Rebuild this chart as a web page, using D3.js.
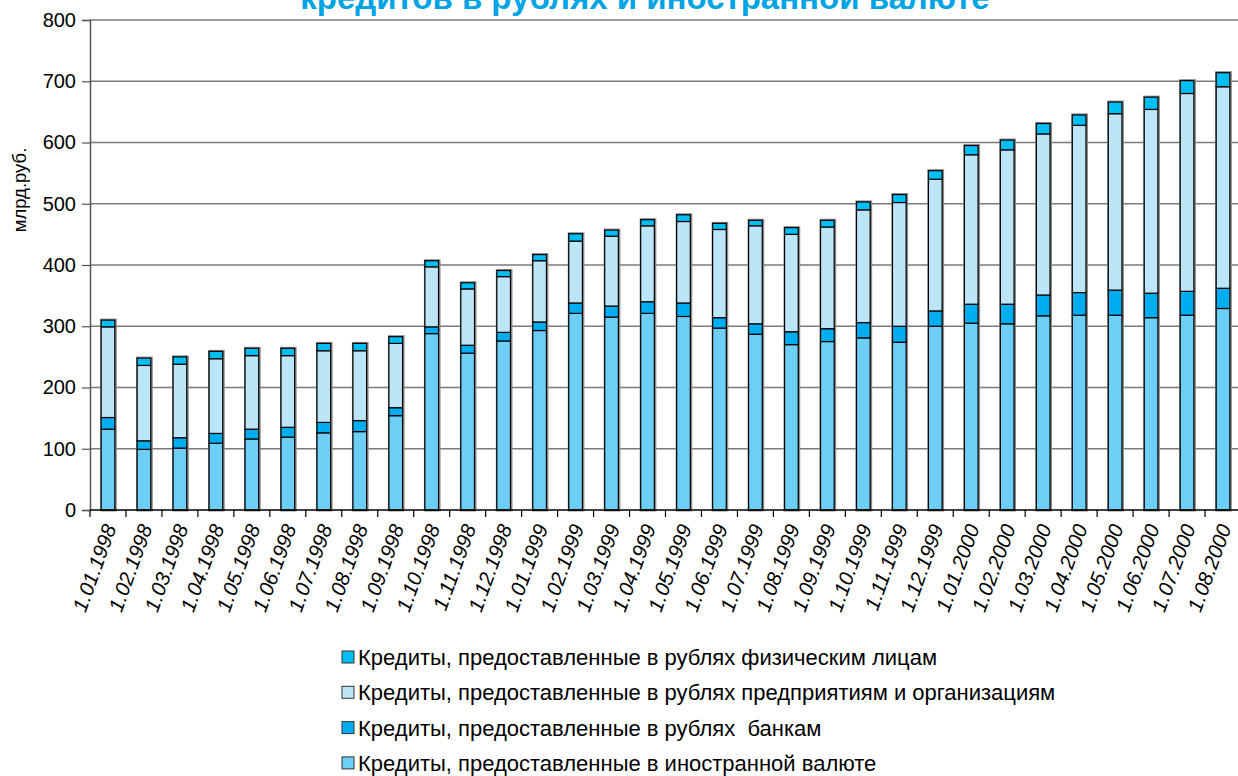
<!DOCTYPE html>
<html><head><meta charset="utf-8">
<script src="https://cdn.jsdelivr.net/npm/d3@7"></script>
<style>body{margin:0;background:#fff;} svg{display:block;} .lgt{white-space:pre;}</style>
</head><body>
<svg id="c" width="1238" height="776"></svg>
<script>
const categories = ["1.01.1998","1.02.1998","1.03.1998","1.04.1998","1.05.1998","1.06.1998","1.07.1998","1.08.1998","1.09.1998","1.10.1998","1.11.1998","1.12.1998",
"1.01.1999","1.02.1999","1.03.1999","1.04.1999","1.05.1999","1.06.1999","1.07.1999","1.08.1999","1.09.1999","1.10.1999","1.11.1999","1.12.1999",
"1.01.2000","1.02.2000","1.03.2000","1.04.2000","1.05.2000","1.06.2000","1.07.2000","1.08.2000"];
const foreign     = [132,99,101,109,116,119,126,128,154,288,256,276,293,321,315,321,316,297,287,270,275,281,274,300,305,304,317,318,318,314,318,329];
const banks       = [19,14,17,16,16,16,17,18,13,11,13,14,14,17,18,19,22,17,17,21,21,25,26,25,31,32,34,37,41,40,39,33];
const enterprises = [148,123,120,122,120,117,117,114,105,98,92,91,100,101,114,124,133,144,160,159,166,184,202,215,244,252,263,273,288,300,323,329];
const individuals = [11,12,12,12,12,12,12,12,11,10,10,10,10,12,10,10,11,10,9,11,11,13,13,14,15,16,17,17,19,20,21,23];
const yTicks = [0,100,200,300,400,500,600,700,800];
const seriesNames = ["Кредиты, предоставленные в иностранной валюте","Кредиты, предоставленные в рублях  банкам","Кредиты, предоставленные в рублях предприятиям и организациям","Кредиты, предоставленные в рублях физическим лицам"];
const colors = ["#6dcff6","#00aeef","#bde5f8","#00bdf2"];
const title = "кредитов в рублях и иностранной валюте";
const yLabel = "млрд.руб.";

const svg = d3.select("#c");
const font = "'Liberation Sans', Arial, sans-serif";
const x0 = 90, x1 = 1241, yTop = 20, yBot = 510;
const x = d3.scaleBand().domain(categories).range([x0, x1]).paddingInner(0.62).paddingOuter(0.31);
const y = d3.scaleLinear().domain([0, 800]).range([yBot, yTop]);

// title (partially cut off at top, as in the reference)
svg.append("text").attr("x", 645).attr("y", 9).attr("text-anchor","middle")
  .attr("font-family", font).attr("font-weight","bold").attr("font-size", 33)
  .attr("fill","#00a3e4").text(title);

// gridlines
svg.append("g").selectAll("line").data(yTicks.filter(d=>d>0)).join("line")
  .attr("x1", x0).attr("x2", 1238).attr("y1", d=>y(d)).attr("y2", d=>y(d))
  .attr("stroke","#7a7a7a").attr("stroke-width",1.5);

// y axis
const yAxis = d3.axisLeft(y).tickValues(yTicks).tickSize(8).tickPadding(6);
const gy = svg.append("g").attr("transform",`translate(${x0},0)`).call(yAxis);
gy.select(".domain").attr("stroke","#555").attr("stroke-width",1.5);
gy.selectAll(".tick line").attr("stroke","#555").attr("stroke-width",1.2);
gy.selectAll(".tick text").attr("font-family",font).attr("font-size",20).attr("fill","#000");

svg.append("text").attr("transform","translate(20,190) rotate(-90)").attr("text-anchor","middle")
  .attr("dy","0.35em").attr("font-family",font).attr("font-size",18.5).attr("fill","#000").text(yLabel);

// stacked data
const rows = categories.map((c,i)=>({cat:c, s0:foreign[i], s1:banks[i], s2:enterprises[i], s3:individuals[i]}));
const stack = d3.stack().keys(["s0","s1","s2","s3"])(rows);

// bar shadows
svg.append("g").selectAll("rect").data(rows).join("rect")
  .attr("x", d=>x(d.cat)+0.5).attr("width", x.bandwidth())
  .attr("y", d=>y(d.s0+d.s1+d.s2+d.s3)).attr("height", d=>yBot - y(d.s0+d.s1+d.s2+d.s3))
  .attr("fill","none").attr("stroke","#8a8a8a").attr("stroke-width",3);

svg.append("g").selectAll("g").data(stack).join("g")
  .attr("fill",(d,i)=>colors[i])
  .selectAll("rect").data(d=>d).join("rect")
  .attr("x", d=>x(d.data.cat)).attr("width", x.bandwidth())
  .attr("y", d=>y(d[1])).attr("height", d=>y(d[0])-y(d[1]))
  .attr("stroke","#000").attr("stroke-width",1.2);

// x axis
svg.append("line").attr("x1",x0).attr("x2",1238).attr("y1",yBot).attr("y2",yBot).attr("stroke","#000").attr("stroke-width",1.5);
const step = x.step();
svg.append("g").selectAll("line").data(d3.range(categories.length+1)).join("line")
  .attr("x1", i=>x0 + i*step).attr("x2", i=>x0 + i*step)
  .attr("y1", yBot).attr("y2", yBot+7).attr("stroke","#000").attr("stroke-width",1.2);

svg.append("g").selectAll("text").data(categories).join("text")
  .attr("transform", d=>`translate(${x(d)+x.bandwidth()/2+2},${yBot+15}) rotate(-70)`)
  .attr("text-anchor","end").attr("dy","0.35em")
  .attr("font-family",font).attr("font-size",20.5).attr("font-style","italic").attr("fill","#000")
  .text(d=>d);

// legend
const legendOrder = [3,2,1,0];
const lg = svg.append("g").selectAll("g").data(legendOrder).join("g")
  .attr("transform",(d,i)=>`translate(342,${657 + i*35.3})`);
lg.append("rect").attr("x",0).attr("y",-6).attr("width",12).attr("height",12)
  .attr("fill",d=>colors[d]).attr("stroke","#333").attr("stroke-width",1);
lg.append("text").attr("class","lgt").attr("x",16).attr("dy","0.36em").attr("font-family",font).attr("font-size",22)
  .attr("fill","#000").text(d=>seriesNames[d]);
</script>
</body></html>
